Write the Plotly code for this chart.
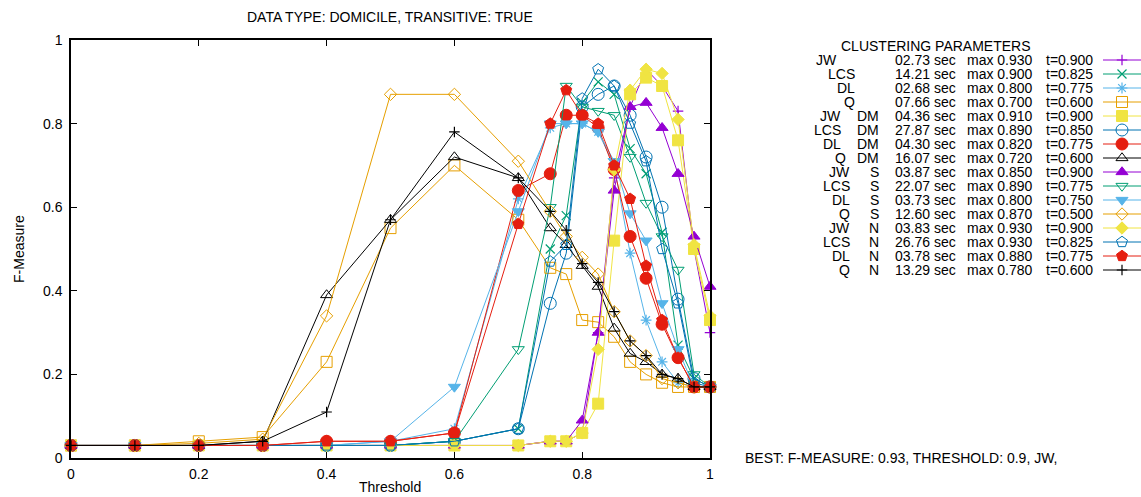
import plotly.graph_objects as go

W, H = 1141, 497

thresholds = [0, 0.1, 0.2, 0.3, 0.4, 0.5, 0.6, 0.7, 0.75, 0.775, 0.8, 0.825,
              0.85, 0.875, 0.9, 0.925, 0.95, 0.975, 1.0]

jw = [0.03, 0.03, 0.03, 0.03, 0.03, 0.03, 0.03, 0.03, 0.04, 0.04, 0.06, 0.30,
      0.67, 0.84, 0.93, 0.89, 0.83, 0.50, 0.30]
lcs = [0.03, 0.03, 0.03, 0.03, 0.03, 0.03, 0.04, 0.07, 0.50, 0.58, 0.85, 0.90,
       0.87, 0.74, 0.68, 0.54, 0.27, 0.19, 0.17]
dl = [0.03, 0.03, 0.03, 0.03, 0.03, 0.04, 0.07, 0.62, 0.79, 0.80, 0.80, 0.78,
      0.70, 0.49, 0.33, 0.23, 0.18, 0.17, 0.17]
q = [0.03, 0.03, 0.04, 0.05, 0.23, 0.55, 0.70, 0.57, 0.455, 0.44, 0.33, 0.325,
     0.29, 0.23, 0.20, 0.18, 0.17, 0.17, 0.17]
jw_dm = [0.03, 0.03, 0.03, 0.03, 0.03, 0.03, 0.03, 0.03, 0.04, 0.04, 0.06, 0.13,
         0.52, 0.87, 0.91, 0.89, 0.76, 0.50, 0.33]
lcs_dm = [0.03, 0.03, 0.03, 0.03, 0.03, 0.03, 0.04, 0.07, 0.37, 0.49, 0.84, 0.87,
          0.89, 0.82, 0.72, 0.60, 0.38, 0.19, 0.17]
dl_dm = [0.03, 0.03, 0.03, 0.03, 0.04, 0.04, 0.06, 0.64, 0.68, 0.82, 0.82, 0.79,
         0.69, 0.53, 0.43, 0.32, 0.24, 0.17, 0.17]
q_dm = [0.03, 0.03, 0.03, 0.04, 0.39, 0.57, 0.72, 0.67, 0.55, 0.51, 0.46, 0.41,
        0.31, 0.25, 0.23, 0.20, 0.19, 0.17, 0.17]
jw_s = [0.03, 0.03, 0.03, 0.03, 0.03, 0.03, 0.03, 0.03, 0.04, 0.04, 0.09, 0.30,
        0.64, 0.84, 0.85, 0.79, 0.68, 0.53, 0.41]
lcs_s = [0.03, 0.03, 0.03, 0.03, 0.03, 0.03, 0.04, 0.26, 0.60, 0.89, 0.84, 0.83,
         0.82, 0.72, 0.61, 0.53, 0.45, 0.20, 0.17]
dl_s = [0.03, 0.03, 0.03, 0.03, 0.03, 0.04, 0.17, 0.59, 0.80, 0.80, 0.80, 0.78,
        0.71, 0.585, 0.52, 0.37, 0.26, 0.17, 0.17]
q_s = [0.03, 0.03, 0.035, 0.045, 0.34, 0.87, 0.87, 0.71, 0.59, 0.53, 0.48, 0.44,
       0.35, 0.28, 0.245, 0.19, 0.18, 0.17, 0.17]
jw_n = [0.03, 0.03, 0.03, 0.03, 0.03, 0.03, 0.03, 0.03, 0.04, 0.04, 0.06, 0.26,
        0.69, 0.88, 0.93, 0.92, 0.81, 0.51, 0.34]
lcs_n = [0.03, 0.03, 0.03, 0.03, 0.03, 0.03, 0.04, 0.07, 0.47, 0.51, 0.86, 0.93,
         0.89, 0.80, 0.71, 0.50, 0.37, 0.18, 0.17]
dl_n = [0.03, 0.03, 0.03, 0.03, 0.04, 0.04, 0.06, 0.56, 0.80, 0.88, 0.82, 0.80,
        0.70, 0.62, 0.46, 0.33, 0.24, 0.17, 0.17]
q_n = [0.03, 0.03, 0.03, 0.04, 0.11, 0.57, 0.78, 0.67, 0.59, 0.545, 0.465, 0.42,
       0.35, 0.28, 0.245, 0.20, 0.19, 0.17, 0.17]

series_values = [jw, lcs, dl, q, jw_dm, lcs_dm, dl_dm, q_dm,
                 jw_s, lcs_s, dl_s, q_s, jw_n, lcs_n, dl_n, q_n]
names = ["JW", "LCS", "DL", "Q"] * 4
suffixes = [""] * 4 + ["DM"] * 4 + ["S"] * 4 + ["N"] * 4
times = ["02.73 sec", "14.21 sec", "02.68 sec", "07.66 sec",
         "04.36 sec", "27.87 sec", "04.30 sec", "16.07 sec",
         "03.87 sec", "22.07 sec", "03.73 sec", "12.60 sec",
         "03.83 sec", "26.76 sec", "03.78 sec", "13.29 sec"]
maxes = ["max 0.930", "max 0.900", "max 0.800", "max 0.700",
         "max 0.910", "max 0.890", "max 0.820", "max 0.720",
         "max 0.850", "max 0.890", "max 0.800", "max 0.870",
         "max 0.930", "max 0.930", "max 0.880", "max 0.780"]
tvals = ["t=0.900", "t=0.825", "t=0.775", "t=0.600",
         "t=0.900", "t=0.850", "t=0.775", "t=0.600",
         "t=0.900", "t=0.775", "t=0.750", "t=0.500",
         "t=0.900", "t=0.825", "t=0.775", "t=0.600"]

title_text = "DATA TYPE: DOMICILE, TRANSITIVE: TRUE"
best_text = "BEST: F-MEASURE: 0.93, THRESHOLD: 0.9, JW,"
x_ticks = [0, 0.2, 0.4, 0.6, 0.8, 1.0]
x_ticktext = ["0", "0.2", "0.4", "0.6", "0.8", "1"]
y_ticks = [0, 0.2, 0.4, 0.6, 0.8, 1.0]
y_ticktext = ["0", "0.2", "0.4", "0.6", "0.8", "1"]

# ---- styles ----
palette = ["#9400d3", "#009e73", "#56b4e9", "#e69f00",
           "#f0e442", "#0072b2", "#e51e10", "#000000"]
symbols = ["cross-thin", "x-thin", "asterisk", "square-open", "square",
           "circle-open", "circle", "triangle-up-open", "triangle-up",
           "triangle-down-open", "triangle-down", "diamond-open", "diamond",
           "pentagon-open", "pentagon", "cross-thin"]
sizes = {"cross-thin": 7.5, "x-thin": 9, "asterisk": 9, "square-open": 11,
         "square": 11, "circle-open": 12, "circle": 12,
         "triangle-up-open": 10.5, "triangle-up": 10.5,
         "triangle-down-open": 10.5, "triangle-down": 10.5,
         "diamond-open": 9.5, "diamond": 9.5, "pentagon-open": 11.5,
         "pentagon": 11.5}

FONT = "Liberation Sans, Arial, Helvetica, sans-serif"
FS = 14


def px(x):
    return x / W


def py(y):
    return 1 - y / H


fig = go.Figure()

for i, vals in enumerate(series_values):
    col = palette[i % 8]
    sym = symbols[i]
    thin = sym in ("cross-thin", "x-thin", "asterisk")
    fig.add_trace(go.Scatter(
        x=thresholds, y=vals, mode="lines+markers",
        line=dict(color=col, width=1),
        marker=dict(symbol=sym, size=sizes[sym], color=col,
                    line=dict(color=col, width=1.2 if thin else 1)),
        cliponaxis=False, showlegend=False, xaxis="x", yaxis="y"))

# legend samples on a separate hidden axis
n = len(series_values)
for i in range(n):
    col = palette[i % 8]
    sym = symbols[i]
    thin = sym in ("cross-thin", "x-thin", "asterisk")
    fig.add_trace(go.Scatter(
        x=[0, 1], y=[i, i], mode="lines", line=dict(color=col, width=1),
        showlegend=False, xaxis="x2", yaxis="y2", cliponaxis=False))
    fig.add_trace(go.Scatter(
        x=[0.5], y=[i], mode="markers",
        marker=dict(symbol=sym, size=sizes[sym], color=col,
                    line=dict(color=col, width=1.2 if thin else 1)),
        showlegend=False, xaxis="x2", yaxis="y2", cliponaxis=False))

ann = []
ann.append(dict(text=title_text, x=px(390), y=py(17), xref="paper", yref="paper",
                xanchor="center", yanchor="middle", showarrow=False))
ann.append(dict(text="Threshold", x=px(390), y=py(497), xref="paper", yref="paper",
                xanchor="center", yanchor="bottom", showarrow=False))
ann.append(dict(text="F-Measure", x=px(19), y=py(249), xref="paper", yref="paper",
                xanchor="center", yanchor="middle", textangle=-90, showarrow=False))
ann.append(dict(text=best_text, x=px(743), y=py(458), xref="paper", yref="paper",
                xanchor="left", yanchor="middle", showarrow=False))
ann.append(dict(text="CLUSTERING PARAMETERS", x=px(936), y=py(46), xref="paper",
                yref="paper", xanchor="center", yanchor="middle", showarrow=False))

row0, dy = 60, 14
for i in range(n):
    yy = py(row0 + dy * i)
    suf = suffixes[i]
    if suf == "":
        name_r = 839 if names[i] == "JW" else 857
    elif suf == "DM":
        name_r = 848 if names[i] == "Q" else 843
    else:
        name_r = 852
    ann.append(dict(text=names[i], x=px(name_r), y=yy, xref="paper", yref="paper",
                    xanchor="right", yanchor="middle", showarrow=False))
    if suf:
        ann.append(dict(text=suf, x=px(881), y=yy, xref="paper", yref="paper",
                        xanchor="right", yanchor="middle", showarrow=False))
    ann.append(dict(text=times[i], x=px(958), y=yy, xref="paper", yref="paper",
                    xanchor="right", yanchor="middle", showarrow=False))
    ann.append(dict(text=maxes[i], x=px(1035), y=yy, xref="paper", yref="paper",
                    xanchor="right", yanchor="middle", showarrow=False))
    ann.append(dict(text=tvals[i], x=px(1095), y=yy, xref="paper", yref="paper",
                    xanchor="right", yanchor="middle", showarrow=False))

axis_common = dict(showgrid=False, zeroline=False, showline=True, linecolor="#000",
                   linewidth=1.5, mirror="ticks", ticks="inside", ticklen=6,
                   tickcolor="#000", tickwidth=1, automargin=False,
                   tickfont=dict(family=FONT, size=FS, color="#000"))

fig.update_layout(
    width=W, height=H,
    margin=dict(l=0, r=0, t=0, b=0),
    paper_bgcolor="white", plot_bgcolor="white",
    font=dict(family=FONT, size=FS, color="#000"),
    showlegend=False,
    xaxis=dict(domain=[px(71), px(710)], range=[0, 1], tickmode="array",
               tickvals=x_ticks, ticktext=x_ticktext, anchor="y",
               ticklabelstandoff=2, **axis_common),
    yaxis=dict(domain=[py(458), py(40)], range=[0, 1], tickmode="array",
               tickvals=y_ticks, ticktext=y_ticktext, anchor="x",
               ticklabelstandoff=4, **axis_common),
    xaxis2=dict(domain=[px(1103), px(1141)], range=[0, 1], visible=False,
                anchor="y2", fixedrange=True),
    yaxis2=dict(domain=[py(53 + dy * n), py(53)], range=[n - 0.5, -0.5],
                visible=False, anchor="x2", fixedrange=True),
    annotations=ann,
)

fig.write_html("out.html")
